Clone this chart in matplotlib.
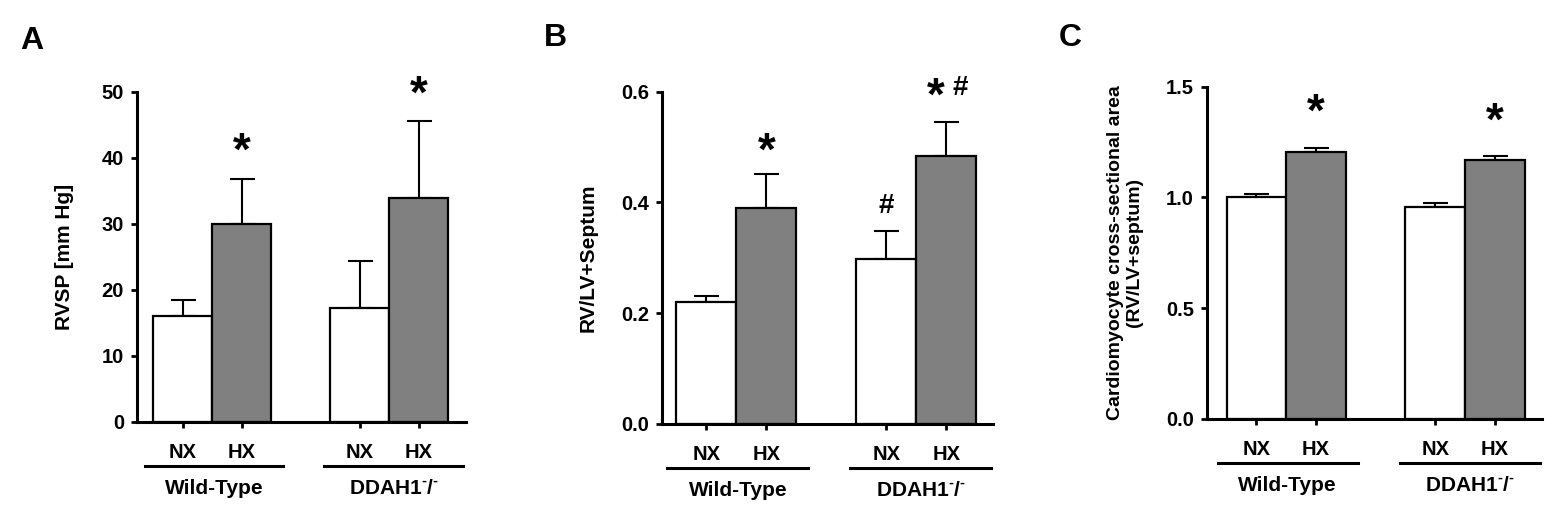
import matplotlib
matplotlib.use('Agg')
import matplotlib.pyplot as plt
from matplotlib.transforms import blended_transform_factory, offset_copy

plt.rcParams['font.family'] = ['Liberation Sans', 'DejaVu Sans']
plt.rcParams['font.weight'] = 'bold'
plt.rcParams['mathtext.fontset'] = 'custom'
plt.rcParams['mathtext.rm'] = 'Liberation Sans:bold'
plt.rcParams['mathtext.bf'] = 'Liberation Sans:bold'

# data
conditions = ['NX', 'HX', 'NX', 'HX']
groups = ['Wild-Type', r'DDAH1$^{\text{-}}$/$^{\text{-}}$']
positions = [0, 1, 3, 4]

rvsp_mean = [16.0, 30.0, 17.2, 33.9]
rvsp_err = [2.4, 6.8, 7.2, 11.7]
rvsp_marks = ['', '*', '', '*']
rvsp_mark_y = [0, 42.2, 0, 50.8]

fulton_mean = [0.221, 0.390, 0.298, 0.484]
fulton_err = [0.011, 0.062, 0.050, 0.061]
fulton_marks = ['', '*', '#', '* #']
fulton_mark_y = [0, 0.507, 0.393, 0.606]

csa_mean = [1.0, 1.205, 0.959, 1.171]
csa_err = [0.016, 0.018, 0.016, 0.018]
csa_marks = ['', '*', '', '*']
csa_mark_y = [0, 1.417, 0, 1.378]

colors = ['white', '#808080', 'white', '#808080']

fig = plt.figure(figsize=(15.62, 5.17), dpi=100)


def panel(rect, means, errs, marks, mark_y, ylim, yticks, yticklabels, ylabel, ylabel_x, ylabel_size,
          letter, letter_xy, xlim):
    ax = fig.add_axes(rect)
    ax.bar(positions, means, width=1.0, color=colors, edgecolor='black', linewidth=1.6, zorder=2)
    ax.errorbar(positions, means, yerr=[[0] * 4, errs], fmt='none', ecolor='black',
                elinewidth=1.5, capsize=9, capthick=1.5, zorder=1)
    ax.set_xlim(*xlim)
    ax.set_ylim(*ylim)
    ax.set_yticks(yticks)
    ax.set_yticklabels(yticklabels)
    ax.set_xticks(positions)
    ax.set_xticklabels(conditions, fontsize=15, fontweight='bold')
    for s in ['top', 'right']:
        ax.spines[s].set_visible(False)
    for s in ['left', 'bottom']:
        ax.spines[s].set_linewidth(2.2)
    ax.tick_params(axis='both', direction='out', length=4.3, width=2, labelsize=14.5)
    ax.tick_params(axis='y', pad=5)
    ax.tick_params(axis='x', pad=10.5)
    ax.text(ylabel_x, 0.5, ylabel, transform=ax.transAxes, rotation=90,
            ha='center', va='center', fontsize=ylabel_size, fontweight='bold', linespacing=1.15)

    # significance marks, nudged down a few pixels so the glyph sits on the value
    mark_tr = offset_copy(ax.transData, fig=fig, y=-9, units='dots')
    for p, m, y in zip(positions, marks, mark_y):
        if m == '*':
            ax.text(p, y, '*', transform=mark_tr, ha='center', va='center', fontsize=33, fontweight='bold')
        elif m == '#':
            ax.text(p, y, '#', transform=ax.transData, ha='center', va='center', fontsize=20, fontweight='bold')
        elif m == '* #':
            ax.text(p - 0.18, y, '*', transform=mark_tr, ha='center', va='center', fontsize=33, fontweight='bold')
            ax.text(p + 0.23, y, '#', transform=ax.transData, ha='center', va='center', fontsize=20, fontweight='bold')

    # group underlines and labels
    trans = blended_transform_factory(ax.transData, ax.transAxes)
    line_tr = offset_copy(trans, fig=fig, y=-44, units='dots')
    text_tr = offset_copy(trans, fig=fig, y=-67, units='dots')
    for (x0, x1), g in zip([(-0.65, 1.7), (2.4, 4.75)], groups):
        ax.plot([x0, x1], [0, 0], color='black', linewidth=2.2, transform=line_tr, clip_on=False)
        ax.text((x0 + x1) / 2, 0, g, transform=text_tr, ha='center', va='center',
                fontsize=15, fontweight='bold')

    fig.text(letter_xy[0], letter_xy[1], letter, ha='left', va='top', fontsize=23, fontweight='bold')
    return ax


panel([0.0877, 0.1838, 0.2106, 0.6388], rvsp_mean, rvsp_err, rvsp_marks, rvsp_mark_y,
      (0, 50), [0, 10, 20, 30, 40, 50], ['0', '10', '20', '30', '40', '50'],
      'RVSP [mm Hg]', -0.219, 15, 'A', (0.013, 0.950), (-0.78, 4.8))

panel([0.4238, 0.1799, 0.2119, 0.6427], fulton_mean, fulton_err, fulton_marks, fulton_mark_y,
      (0, 0.6), [0.0, 0.2, 0.4, 0.6], ['0.0', '0.2', '0.4', '0.6'],
      'RV/LV+Septum', -0.224, 15, 'B', (0.348, 0.955), (-0.74, 4.78))

panel([0.7727, 0.1896, 0.2145, 0.6427], csa_mean, csa_err, csa_marks, csa_mark_y,
      (0, 1.5), [0.0, 0.5, 1.0, 1.5], ['0.0', '0.5', '1.0', '1.5'],
      'Cardiomyocyte cross-sectional area\n(RV/LV+septum)', -0.245, 14, 'C', (0.678, 0.955), (-0.83, 4.79))

fig.savefig('out.png', dpi=100)
